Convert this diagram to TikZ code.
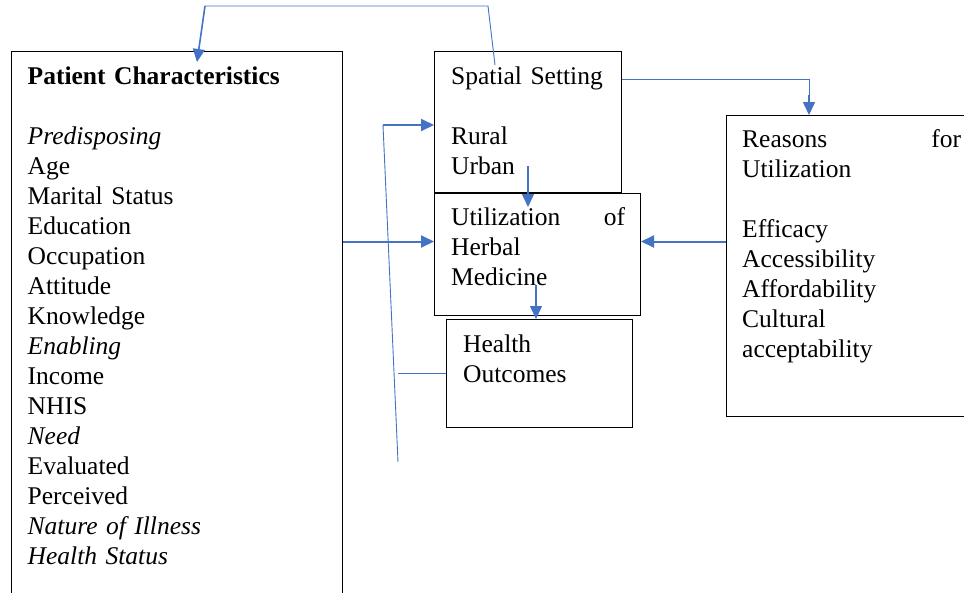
\documentclass[tikz,border=0pt]{standalone}
\usepackage{fontspec}
\setmainfont{Liberation Serif}
\usetikzlibrary{arrows.meta,calc}
\definecolor{lineblue}{HTML}{4472C4}

\begin{document}
\begin{tikzpicture}[x=1pt, y=-1pt, every node/.style={font=\fontsize{25.5}{30}\selectfont},
		box/.style={draw, line width=1pt, anchor=north west, inner sep=0pt},
		txt/.style={anchor=base west, inner sep=0pt, align=left},
		arr/.style={draw=lineblue, line width=2pt, -{Triangle[length=13pt,width=12pt]}},
		ln/.style={draw=lineblue, line width=0.9pt}]
	\useasboundingbox (0,0) rectangle (964,592);
	% boxes
	\node[box, minimum width=331pt, minimum height=600pt] (pc) at (11,51) {};
	\node[box, minimum width=187pt, minimum height=141pt] (ss) at (434,51) {};
	\node[box, minimum width=206pt, minimum height=122pt] (uhm) at (434,193) {};
	\node[box, minimum width=186pt, minimum height=108pt] (ho) at (446,319) {};
	\node[box, minimum width=260pt, minimum height=301pt] (rfu) at (726,115) {};
	% texts
	\node[txt, text width=310pt] (pct) at ($(pc.north west)+(16.5,33)$) {\textbf{Patient Characteristics}\\[30pt]
		\textit{Predisposing}\\ Age\\ Marital Status\\ Education\\ Occupation\\ Attitude\\ Knowledge\\
		\textit{Enabling}\\ Income\\ NHIS\\ \textit{Need}\\ Evaluated\\ Perceived\\
		\textit{Nature of Illness}\\ \textit{Health Status}};
	\node[txt, text width=165pt] (sst) at ($(ss.north west)+(17,33)$) {Spatial Setting\\[30pt] Rural\\ Urban};
	\node[txt, text width=174pt] (uhmt) at ($(uhm.north west)+(17,32)$) {Utilization\hfill of\\ Herbal\\ Medicine};
	\node[txt, text width=160pt] (hot) at ($(ho.north west)+(17,33)$) {Health\\ Outcomes};
	\node[txt, text width=219pt] (rfut) at ($(rfu.north west)+(16,32)$) {Reasons\hfill for\\ Utilization\\[30pt]
		Efficacy\\ Accessibility\\ Affordability\\ Cultural\\ acceptability};
	% free ends
	\coordinate (fbS) at ($(ss.north west)+(61,14)$);
	\coordinate (fbR) at (488,6);
	\coordinate (fbL) at (205,6);
	\coordinate (pcIn) at ($(pc.north west)+(186,11)$);
	\coordinate (ssR) at ($(ss.north east)+(0,28)$);
	\coordinate (rfuIn) at ($(rfu.north west)+(83,0)$);
	\coordinate (vTop) at (383,125);
	\coordinate (vBot) at (398,462);
	\coordinate (midY) at ($(uhm.west)+(0,-13)$);
	\coordinate (urb) at ($(ss.south west)+(94,-27)$);
	\coordinate (med) at ($(uhm.north west)+(102,92)$);
	% connectors
	\draw[ln] (fbS) -- (fbR) -- (fbL);
	\draw[arr, line width=1.6pt] (fbL) -- (pcIn);
	\draw[ln] (ssR) -| ($(rfuIn)+(0,-20)$);
	\draw[arr, line width=1.6pt] ($(rfuIn)+(0,-20)$) -- (rfuIn);
	\draw[ln] (vBot) -- (vTop);
	\draw[arr] (vTop) -- (vTop -| ss.west);
	\draw[arr] (pc.east |- midY) -- (midY);
	\draw[arr] (rfu.west |- midY) -- (uhm.east |- midY);
	\draw[arr, line width=1.4pt] (urb) -- ($(uhm.north west)+(94,14)$);
	\draw[arr, line width=1.4pt] (med) -- (med |- ho.north);
	\draw[ln] (ho.west) -- (ho.west -| vBot);
\end{tikzpicture}
\end{document}
